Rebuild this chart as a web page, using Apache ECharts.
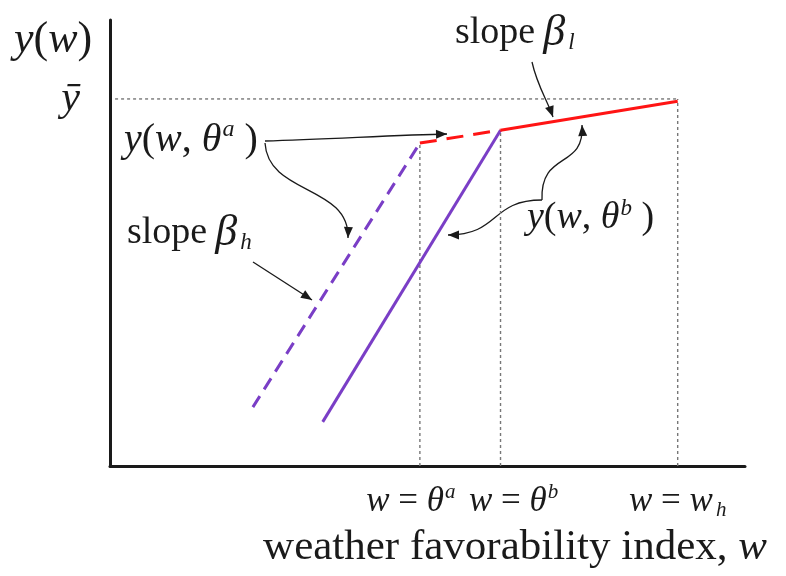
<!DOCTYPE html>
<html>
<head>
<meta charset="utf-8">
<script src="https://cdn.jsdelivr.net/npm/echarts@6/dist/echarts.min.js"></script>
<style>
  html, body { margin: 0; padding: 0; background: #fff; }
  #chart { width: 786px; height: 576px; }
</style>
</head>
<body>
<div id="chart"></div>
<script>
// positions on the w axis: theta a, theta b, w_h
const wTicks = [48.8, 61.5, 89.4];
const wTickLabels = ['{i|w} = {i|θ}{supR|a}', '{iL|w} = {i|θ}{sup|b}', '{i|w} = {i|w}{sub|h}'];
const yBar = 82.3;

// y(w, θa): steep piece then flat piece
const steepA = [[22.5, 13.2], [48.8, 72.4]];
const flatA = [[48.8, 72.4], [61.5, 75.3]];
// y(w, θb)
const steepB = [[33.5, 9.9], [61.5, 75.3]];
const flatB = [[61.5, 75.3], [89.4, 81.8]];

const ink = '#1a1a1a';
const purple = '#7a3ec6';
const red = '#ff1414';
const serif = "'Liberation Serif', 'DejaVu Serif', serif";

function richFor(size) {
  const small = Math.round(size * 0.6);
  return {
    i: { fontStyle: 'italic', fontFamily: serif, fontSize: size, color: ink },
    iL: { fontStyle: 'italic', fontFamily: serif, fontSize: size, color: ink, padding: [0, 0, 0, 26] },
    b: { fontStyle: 'italic', fontFamily: serif, fontSize: Math.round(size * 1.15), color: ink, padding: [0, 0, 0, 8] },
    sup: { fontStyle: 'italic', fontFamily: serif, fontSize: small, color: ink, padding: [0, 0, Math.round(size * 0.5), 1] },
    supR: { fontStyle: 'italic', fontFamily: serif, fontSize: small, color: ink, padding: [0, 18, Math.round(size * 0.5), 1] },
    sub: { fontStyle: 'italic', fontFamily: serif, fontSize: small, color: ink, padding: [Math.round(size * 0.5), 0, 0, 3] }
  };
}

// dotted guide lines, built from the values above
const guides = [
  [[wTicks[0], 0], [wTicks[0], steepA[1][1]]],
  [[wTicks[1], 0], [wTicks[1], steepB[1][1]]],
  [[wTicks[2], 0], [wTicks[2], yBar]],
  [[0.8, yBar], [wTicks[2], yBar]]
];

function line(name, data, color, type) {
  return {
    name: name, type: 'line', data: data, symbol: 'none', silent: true,
    lineStyle: { color: color, width: 3, type: type }
  };
}

const series = guides.map(function (g, i) {
  return {
    name: 'guide' + i, type: 'line', data: g, symbol: 'none', silent: true,
    lineStyle: { color: '#777', width: 1.4, type: [3, 3] }
  };
});
series.push(line('steepA', steepA, purple, [13, 8]));
series.push(line('steepB', steepB, purple, 'solid'));
series.push(line('flatA', flatA, red, [17, 10]));
series.push(line('flatB', flatB, red, 'solid'));

function head(tx, ty, fx, fy) {
  const a = Math.atan2(ty - fy, tx - fx), L = 11, W = 4.5;
  const bx = tx - L * Math.cos(a), by = ty - L * Math.sin(a);
  return {
    type: 'polygon',
    shape: { points: [[tx, ty], [bx - W * Math.sin(a), by + W * Math.cos(a)], [bx + W * Math.sin(a), by - W * Math.cos(a)]] },
    style: { fill: ink }
  };
}
function curve(x1, y1, c1x, c1y, c2x, c2y, x2, y2) {
  return [{
    type: 'bezierCurve',
    shape: { x1: x1, y1: y1, cpx1: c1x, cpy1: c1y, cpx2: c2x, cpy2: c2y, x2: x2, y2: y2 },
    style: { stroke: ink, lineWidth: 1.3, fill: null }
  }, head(x2, y2, c2x, c2y)];
}
function label(x, y, text, size, align) {
  return {
    type: 'text', x: x, y: y,
    style: {
      text: text, rich: richFor(size), fill: ink, fontFamily: serif, fontSize: size,
      align: align || 'left', verticalAlign: 'middle'
    }
  };
}

const graphics = [].concat(
  label(14, 40, '{i|y}({i|w})', 44),
  label(455, 33, 'slope{b|β}{sub|l}', 38),
  label(124, 140, '{i|y}({i|w}, {i|θ}{sup|a} )', 40),
  label(127, 233, 'slope{b|β}{sub|h}', 38),
  label(527, 218, '{i|y}({i|w}, {i|θ}{sup|b} )', 38),
  label(767, 548, 'weather favorability index, {i|w}', 43, 'right'),
  curve(532, 62, 537, 85, 547, 100, 553, 117),
  curve(265, 141, 330, 139, 400, 135, 447, 134),
  curve(265, 143, 268, 195, 350, 185, 348, 238),
  curve(253, 262, 275, 276, 295, 289, 312, 300),
  curve(542, 200, 490, 200, 500, 235, 448, 235),
  curve(542, 200, 540, 150, 585, 170, 582, 125)
);

const chart = echarts.init(document.getElementById('chart'));
chart.setOption({
  animation: false,
  backgroundColor: '#fff',
  grid: { left: 110, right: 41, top: 20, bottom: 110 },
  xAxis: {
    type: 'value', min: 0, max: 100,
    splitLine: { show: false },
    axisTick: { show: false },
    axisLine: { lineStyle: { color: ink, width: 3 } },
    axisLabel: {
      customValues: wTicks,
      hideOverlap: false,
      margin: 16,
      color: ink, fontFamily: serif, fontSize: 35,
      rich: richFor(35),
      formatter: function (v) { return wTickLabels[wTicks.indexOf(v)] || ''; }
    }
  },
  yAxis: {
    type: 'value', min: 0, max: 100,
    splitLine: { show: false },
    axisTick: { show: false },
    axisLine: { lineStyle: { color: ink, width: 3 } },
    axisLabel: {
      customValues: [yBar],
      margin: 30,
      color: ink, fontFamily: serif, fontSize: 42, fontStyle: 'italic',
      formatter: function () { return 'ȳ'; }
    }
  },
  series: series,
  graphic: graphics
});
</script>
</body>
</html>
